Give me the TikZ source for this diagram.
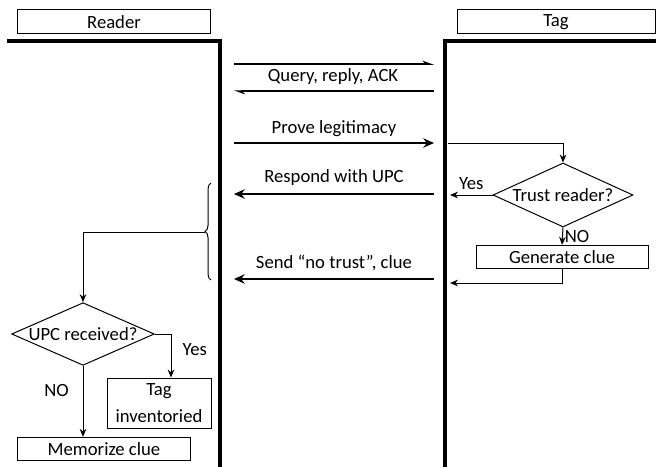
\documentclass[tikz,border=0pt]{standalone}
\usepackage{fontspec}
\setmainfont{Carlito}
\usetikzlibrary{arrows.meta, positioning, calc, shapes.geometric, decorations.pathreplacing}

\begin{document}
\begin{tikzpicture}[x=0.75pt, y=-0.75pt, font=\fontsize{14}{16}\selectfont,
    lane/.style={draw, line width=0.75pt, minimum height=18pt, inner sep=0pt},
    life/.style={line width=3pt},
    msg/.style={line width=2.2pt, -{Stealth[length=8pt, width=7pt]}},
    ping/.style={line width=1.4pt, -{Stealth[harpoon, length=7pt, width=5pt]}},
    flow/.style={line width=0.75pt, -{Stealth[length=6pt, width=5pt]}},
    box/.style={draw, line width=0.75pt, minimum height=17.5pt, inner sep=1pt, align=center},
    test/.style={draw, diamond, line width=0.75pt, inner sep=0pt}]

    \useasboundingbox (0,0) rectangle (656,467);

    % the two parties
    \node[lane, minimum width=145pt] (reader) at (114,22) {Reader};
    \node[lane, minimum width=148.5pt] (tag) at (556,22) {Tag};

    \coordinate (r0) at (7,41);
    \coordinate (r1) at (220,467);
    \coordinate (t0) at (656,41);
    \coordinate (t1) at (445,467);
    \draw[life] (r0) -| (r1);
    \draw[life] (t0) -| (t1);

    % message end points, reader side and tag side
    \foreach \n/\y in {q1/64, q2/91, pl/143, up/194, nt/279}{
        \coordinate (r\n) at (234,\y);
        \coordinate (t\n) at (434,\y);
    }

    \draw[ping] (rq1) -- (tq1);
    \node (query) at (333,77) {Query, reply, ACK};
    \draw[ping, line width=0.9pt] (tq2) -- (rq2);
    \draw[msg] (rpl) -- node[above=0pt] (prove) {Prove legitimacy} (tpl);
    \draw[msg] (tup) -- node[above=2pt] (respond) {Respond with UPC} (rup);
    \draw[msg] (tnt) -- node[above=2pt] (notrust) {Send “no trust”, clue} (rnt);

    % tag side
    \node[test, aspect=2.2, minimum width=105pt, minimum height=48pt] (trust) at (563,195) {Trust reader?};
    \node[box, minimum width=129pt] (clue) at (562,257) {Generate clue};

    \coordinate (tin) at (448,143);
    \coordinate (tyes) at (450,195);
    \coordinate (tback) at (450,283);
    \draw[flow] (tin) -| (trust.north);
    \draw[flow] (trust.west) -- node[above] (yes1) {Yes} (tyes);
    \draw[flow] (trust.south) -- node[right, xshift=-2pt] (no1) {NO} (clue.north);
    \draw[flow] (clue.south) |- (tback);

    % reader side
    \coordinate (b0) at (211,280);
    \coordinate (b1) at (211,183);
    \coordinate (tip) at (205,232);
    \draw[line width=0.75pt, decorate, decoration={brace, amplitude=4.5pt}] (b0) -- (b1);

    \node[test, aspect=2.28, minimum width=107pt, minimum height=47pt] (upc) at (83,334) {UPC received?};
    \node[box, minimum width=78pt, minimum height=37.5pt, inner sep=0pt] (inv) at (159,403) {Tag\\[4pt]inventoried};
    \node[box, minimum width=130pt] (memo) at (104,449) {Memorize clue};

    \draw[flow] (tip) -| (upc.north);
    \draw[flow] (upc.east) -| node[pos=0.68, right=5pt] (yes2) {Yes} ($(inv.north)+(12,0)$);
    \draw[flow] (upc.south) -- node[pos=0.35, left=7pt] (no2) {NO} (upc.south |- memo.north);
\end{tikzpicture}
\end{document}
